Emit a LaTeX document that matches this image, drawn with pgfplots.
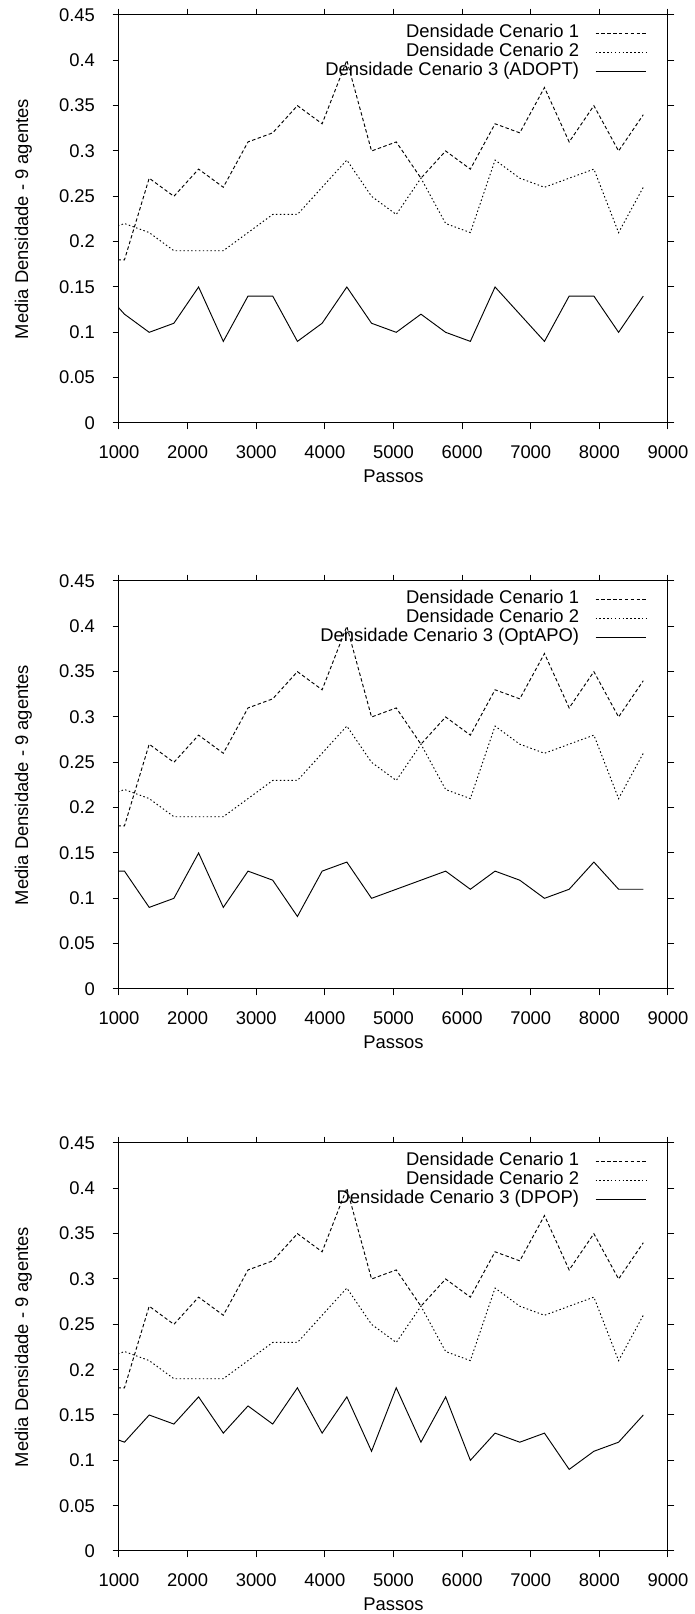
\documentclass[border=0pt]{standalone}
\usepackage{fontspec}
\setmainfont{Liberation Sans}
\usepackage{pgfplots}
\usepackage{pgfplotstable}
\pgfplotsset{compat=1.18}

\pgfplotstableread{
x     c1    c2    a     b     c
720   0.18  0.21  0.15  0.13  0.13
1080  0.18  0.22  0.12  0.13  0.12
1440  0.27  0.21  0.10  0.09  0.15
1800  0.25  0.19  0.11  0.10  0.14
2160  0.28  0.19  0.15  0.15  0.17
2520  0.26  0.19  0.09  0.09  0.13
2880  0.31  0.21  0.14  0.13  0.16
3240  0.32  0.23  0.14  0.12  0.14
3600  0.35  0.23  0.09  0.08  0.18
3960  0.33  0.26  0.11  0.13  0.13
4320  0.40  0.29  0.15  0.14  0.17
4680  0.30  0.25  0.11  0.10  0.11
5040  0.31  0.23  0.10  0.11  0.18
5400  0.27  0.27  0.12  0.12  0.12
5760  0.30  0.22  0.10  0.13  0.17
6120  0.28  0.21  0.09  0.11  0.10
6480  0.33  0.29  0.15  0.13  0.13
6840  0.32  0.27  0.12  0.12  0.12
7200  0.37  0.26  0.09  0.10  0.13
7560  0.31  0.27  0.14  0.11  0.09
7920  0.35  0.28  0.14  0.14  0.11
8280  0.30  0.21  0.10  0.11  0.12
8640  0.34  0.26  0.14  0.11  0.15
}\data

\newcommand{\gpfont}{\fontsize{13.8}{16}\selectfont}

\pgfplotsset{
  gp/.style={
    scale only axis,
    width=411.75pt, height=306pt,
    xmin=1000, xmax=9000, ymin=0, ymax=0.45,
    xtick={1000,2000,...,9000},
    ytick={0,0.05,0.1,0.15,0.2,0.25,0.3,0.35,0.4,0.45},
    yticklabels={0,0.05,0.1,0.15,0.2,0.25,0.3,0.35,0.4,0.45},
    scaled y ticks=false,
    /pgf/number format/1000 sep={},
    /pgf/number format/assume math mode=true,
    tick align=outside, xtick pos=both, ytick pos=both,
    major tick length=4.8pt,
    axis line style={line width=0.75pt},
    every tick/.style={black, line width=0.75pt},
    tick label style={font=\gpfont},
    yticklabel style={xshift=-9.7pt},
    xticklabel style={yshift=-9pt},
    label style={font=\gpfont},
    xlabel={Passos},
    ylabel={Media Densidade - 9 agentes},
    xlabel style={at={(axis description cs:0.5,-0.13)}, anchor=center},
    ylabel style={at={(axis description cs:-0.1742,0.5)}, anchor=center},
    legend plot pos=right,
    legend cell align=right,
    legend style={at={(axis description cs:1,1)}, anchor=north east,
      xshift=-16pt, yshift=-7pt,
      draw=none, fill=none, font=\gpfont,
      inner sep=0pt, outer sep=0pt,
      column sep=12pt, row sep=0pt,
      nodes={inner sep=0pt, text height=10pt, text depth=4.25pt}},
    legend image code/.code={\draw[#1] (0pt,0pt) -- (38pt,0pt);},
    every axis plot/.append style={black, line width=0.7pt},
  },
  s1/.style={dash pattern=on 2.6pt off 1.8pt},
  s2/.style={dash pattern=on 1.1pt off 1.8pt},
}

\begin{document}
\begin{tikzpicture}
\path[use as bounding box] (0,0) rectangle (521.25pt,1210.5pt);

\begin{axis}[gp, at={(89.25pt,893.25pt)}, anchor=south west]
\addplot[s1] table[x=x,y=c1]{\data};
\addlegendentry{Densidade Cenario 1}
\addplot[s2] table[x=x,y=c2]{\data};
\addlegendentry{Densidade Cenario 2}
\addplot[solid] table[x=x,y=a]{\data};
\addlegendentry{Densidade Cenario 3 (ADOPT)}
\end{axis}

\begin{axis}[gp, at={(89.25pt,468.75pt)}, anchor=south west]
\addplot[s1] table[x=x,y=c1]{\data};
\addlegendentry{Densidade Cenario 1}
\addplot[s2] table[x=x,y=c2]{\data};
\addlegendentry{Densidade Cenario 2}
\addplot[solid] table[x=x,y=b]{\data};
\addlegendentry{Densidade Cenario 3 (OptAPO)}
\end{axis}

\begin{axis}[gp, at={(89.25pt,47.25pt)}, anchor=south west]
\addplot[s1] table[x=x,y=c1]{\data};
\addlegendentry{Densidade Cenario 1}
\addplot[s2] table[x=x,y=c2]{\data};
\addlegendentry{Densidade Cenario 2}
\addplot[solid] table[x=x,y=c]{\data};
\addlegendentry{Densidade Cenario 3 (DPOP)}
\end{axis}
\end{tikzpicture}
\end{document}
